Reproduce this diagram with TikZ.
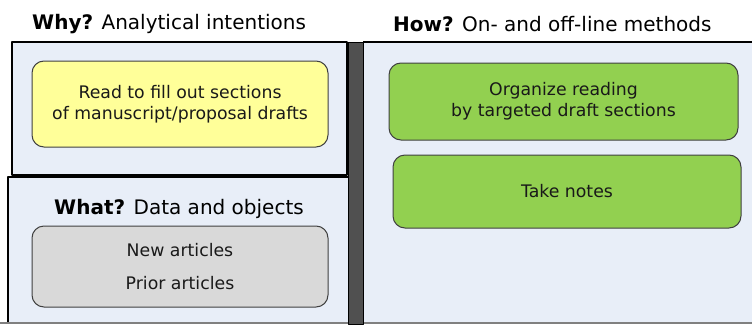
\documentclass[tikz,border=0pt]{standalone}
\usepackage{fontspec}
\setmainfont{DejaVu Sans}
\definecolor{panelbg}{HTML}{E8EEF8}
\definecolor{darkbar}{HTML}{505050}
\definecolor{boxedge}{HTML}{404040}
\definecolor{ylw}{HTML}{FFFF99}
\definecolor{grybox}{HTML}{D9D9D9}
\definecolor{grn}{HTML}{92D050}
\begin{document}
\begin{tikzpicture}[x=1pt, y=-1pt, line join=round,
    box/.style={draw=boxedge, line width=1pt, rounded corners=12pt, align=center,
      inner sep=0pt, text=black!90, font=\fontsize{17.3}{21}\selectfont},
    title/.style={anchor=base west, inner sep=0pt, font=\fontsize{20}{22}\selectfont}]
  \useasboundingbox (0,0) rectangle (752,324);
  % panels
  \fill[panelbg] (363,42) rectangle (752,322);
  \draw[line width=1.5pt] (363,42) -- (752,42);
  \draw[gray, line width=2pt] (0,323) -- (752,323);
  \fill[panelbg] (8,177) rectangle (348,322);
  \draw[line width=1.5pt] (8,322) -- (8,177) -- (348,177);
  \filldraw[fill=panelbg, line width=2pt] (12,42) rectangle (347,175);
  \filldraw[fill=darkbar, line width=1pt] (348,42) rectangle (363,324);
  % headings
  \node[title] (whyt) at (32,29) {\textbf{Why?} Analytical intentions};
  \node[title] (howt) at (393,31) {\textbf{How?} On- and off-line methods};
  \node[title, anchor=base] (whatt) at (179,214) {\textbf{What?} Data and objects};
  % boxes
  \node[box, fill=ylw, minimum width=296pt, minimum height=86pt] (intent) at (180,104)
    {Read to fill out sections\\of manuscript/proposal drafts};
  \node[box, fill=grybox, minimum width=296pt, minimum height=81pt,
    font=\fontsize{17.3}{33}\selectfont] (data) at (180,266.5)
    {New articles\\Prior articles};
  \node[box, fill=grn, minimum width=349pt, minimum height=77pt] (organize) at (563.5,101.5)
    {Organize reading\\by targeted draft sections};
  \node[box, fill=grn, minimum width=348pt, minimum height=73pt] (notes) at (567,191.5)
    {Take notes};
\end{tikzpicture}
\end{document}
